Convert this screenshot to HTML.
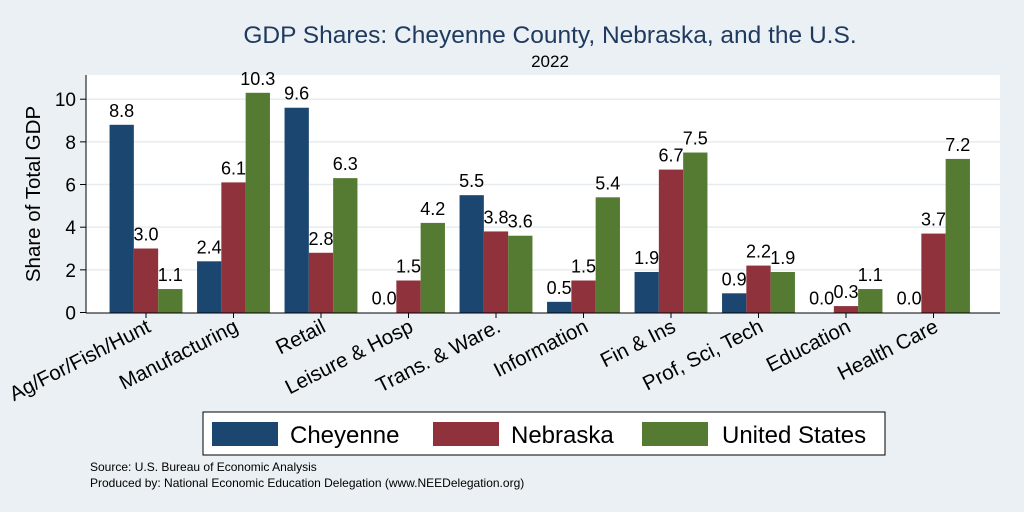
<!DOCTYPE html>
<html><head><meta charset="utf-8"><style>
body{margin:0;background:#eaf0f3;}
svg{display:block;font-family:"Liberation Sans",Arial,sans-serif;}
</style></head><body>
<svg id="chart" width="1024" height="512">
<rect x="0" y="0" width="1024" height="512" fill="#eaf0f3"/>
<text x="550" y="43" font-size="24.5" fill="#1f3a5f" text-anchor="middle">GDP Shares: Cheyenne County, Nebraska, and the U.S.</text>
<text x="550" y="67" font-size="17" fill="#000" text-anchor="middle">2022</text>
<rect x="86" y="75" width="914" height="238" fill="#fff"/>
<g id="grid"></g>
<g id="bars"></g>
<line x1="86" y1="75" x2="86" y2="313" stroke="#000" stroke-width="1"/>
<line x1="86" y1="313" x2="1000" y2="313" stroke="#000" stroke-width="1"/>
<text transform="translate(40,194) rotate(-90)" font-size="20.5" text-anchor="middle">Share of Total GDP</text>
<g>
<rect x="203" y="412" width="682" height="43" fill="#fff" stroke="#000" stroke-width="1"/>
<rect x="212" y="422" width="66" height="24" fill="#1b4670"/>
<text x="290" y="443" font-size="24">Cheyenne</text>
<rect x="433" y="422" width="66" height="24" fill="#8f323c"/>
<text x="511" y="443" font-size="24">Nebraska</text>
<rect x="642" y="422" width="66" height="24" fill="#557a31"/>
<text x="722" y="443" font-size="24">United States</text>
</g>
<text x="90" y="471" font-size="12">Source: U.S. Bureau of Economic Analysis</text>
<text x="90" y="487" font-size="12">Produced by: National Economic Education Delegation (www.NEEDelegation.org)</text>
</svg>
<script>
const categories=["Ag/For/Fish/Hunt","Manufacturing","Retail","Leisure & Hosp","Trans. & Ware.","Information","Fin & Ins","Prof, Sci, Tech","Education","Health Care"];
const cheyenne=[8.8,2.4,9.6,0.0,5.5,0.5,1.9,0.9,0.0,0.0];
const nebraska=[3.0,6.1,2.8,1.5,3.8,1.5,6.7,2.2,0.3,3.7];
const unitedStates=[1.1,10.3,6.3,4.2,3.6,5.4,7.5,1.9,1.1,7.2];
const yTicks=[0,2,4,6,8,10];
const NS="http://www.w3.org/2000/svg";
const y=v=>312.5-v*21.33;
const gx=i=>146+i*87.5;
const grid=document.getElementById('grid');
const bars=document.getElementById('bars');
function mk(t,a,p){const e=document.createElementNS(NS,t);for(const k in a)e.setAttribute(k,a[k]);p.appendChild(e);return e;}
yTicks.forEach(t=>{
  if(t>0){const l=mk('line',{x1:86,x2:1000,y1:y(t),y2:y(t),stroke:'#e6ecef','stroke-width':1.5},grid);
  
  }
  const tk=mk('line',{x1:80,x2:86,y1:y(t),y2:y(t),stroke:'#000'},grid);
  
  
  const tx=mk('text',{x:76,y:y(t)+7,'font-size':19,'text-anchor':'end'},grid);
  tx.textContent=t;
  
  
});
const series=[[cheyenne,'#1b4670','cheyenne'],[nebraska,'#8f323c','nebraska'],[unitedStates,'#557a31','us']];
const bw=24.3;
categories.forEach((c,i)=>{
  series.forEach(([arr,col,nm],s)=>{
    const x=gx(i)-1.5*bw+s*bw, v=arr[i];
    const r=mk('rect',{x:x,y:y(v),width:bw,height:Math.max(0,312.5-y(v)),fill:col},bars);
    
    
    const t=mk('text',{x:x+bw/2,y:y(v)-8,'font-size':18,'text-anchor':'middle'},bars);
    t.textContent=v.toFixed(1);
    
    
  });
  const tk=mk('line',{x1:gx(i),x2:gx(i),y1:313,y2:318,stroke:'#000'},bars);
  
  
  const lb=mk('text',{transform:`translate(${gx(i)+6},331) rotate(-27)`,'font-size':20.5,'text-anchor':'end'},bars);
  lb.textContent=c;
  
  
});
</script>
</body></html>
